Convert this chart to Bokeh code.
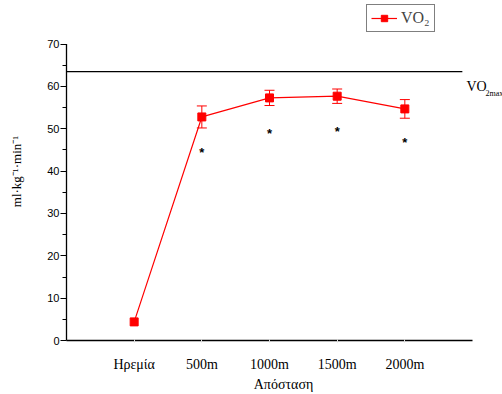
from bokeh.plotting import figure
from bokeh.models import (ColumnDataSource, Whisker, FixedTicker, Label, Legend, LegendItem, Range1d)
from bokeh.core.properties import value
from bokeh.embed import file_html
from bokeh.resources import INLINE

categories = ["Ηρεμία", "500m", "1000m", "1500m", "2000m"]
positions = [1, 2, 3, 4, 5]
vo2 = [4.4, 52.8, 57.3, 57.7, 54.7]
vo2_err = [0.0, 2.6, 1.8, 1.7, 2.2]
star_y = [44.5, 49.0, 49.4, 46.8]
star_x = [2, 3, 4, 5]
vo2max = 63.5
vo2max_line_end = 5.85
y_ticks = [0, 10, 20, 30, 40, 50, 60, 70]
x_axis_end = len(categories) + 1

# pixel scales (px per data unit) used to extend the frame around the drawn axes
SX = 67.67
SY = 4.271
x_start = -2 / SX
x_end = x_axis_end + 30 / SX
y_start = -2 / SY
y_end = y_ticks[-1] + 44 / SY

p = figure(width=502, height=394, output_backend="svg", toolbar_location=None,
           x_range=Range1d(x_start, x_end), y_range=Range1d(y_start, y_end),
           min_border_left=64, min_border_top=0, min_border_right=0, min_border_bottom=48)
p.outline_line_color = None
p.grid.visible = False
p.background_fill_color = "white"

# axes (axis lines drawn as segments so they end where the reference ends)
p.yaxis.ticker = FixedTicker(ticks=y_ticks, minor_ticks=[v + 5 for v in y_ticks[:-1]])
p.yaxis.axis_line_color = None
p.yaxis.major_label_text_font = "Liberation Sans"
p.yaxis.major_label_text_font_size = "11px"
p.yaxis.major_label_text_color = "black"
p.yaxis.major_tick_out = 4
p.yaxis.major_tick_in = 2
p.yaxis.minor_tick_out = 2
p.yaxis.minor_tick_in = 2
p.yaxis.major_label_standoff = 1
p.yaxis.axis_label = "ml·kg⁻¹·min⁻¹"
p.yaxis.axis_label_text_font = "Liberation Serif"
p.yaxis.axis_label_text_font_style = "normal"
p.yaxis.axis_label_text_font_size = "13px"
p.yaxis.axis_label_text_color = "black"
p.yaxis.axis_label_standoff = 20

p.xaxis.ticker = FixedTicker(ticks=positions, minor_ticks=[])
p.xaxis.axis_line_color = None
p.xaxis.major_label_overrides = {pos: c for pos, c in zip(positions, categories)}
p.xaxis.major_label_text_font = "Liberation Serif"
p.xaxis.major_label_text_font_size = "14px"
p.xaxis.major_label_text_color = "black"
p.xaxis.major_tick_out = 0
p.xaxis.major_tick_in = 3
p.xaxis.major_tick_line_color = "#dddddd"
p.xaxis.major_label_standoff = 14
p.xaxis.axis_label = "Απόσταση"
p.xaxis.axis_label_text_font = "Liberation Serif"
p.xaxis.axis_label_text_font_style = "normal"
p.xaxis.axis_label_text_font_size = "14px"
p.xaxis.axis_label_text_color = "black"
p.xaxis.axis_label_standoff = 2

p.segment(x0=[0, 0], y0=[0, 0], x1=[x_axis_end, 0], y1=[0, y_ticks[-1]], line_color="black", line_width=1.3)

# VO2max line
p.segment(x0=[0], y0=[vo2max], x1=[vo2max_line_end], y1=[vo2max], line_color="black", line_width=1.2)
p.add_layout(Label(x=5.91, y=vo2max, y_offset=-22, text="VO", text_font="Liberation Serif",
                   text_font_size="14px", text_color="black"))
p.add_layout(Label(x=5.91, y=vo2max, x_offset=19, y_offset=-26, text="2max", text_font="Liberation Serif",
                   text_font_size="8px", text_color="black"))

# data
lower = [v - e for v, e in zip(vo2, vo2_err)]
upper = [v + e for v, e in zip(vo2, vo2_err)]
src = ColumnDataSource(dict(x=positions, y=vo2, lower=lower, upper=upper))
err_src = ColumnDataSource(dict(x=positions[1:], lower=lower[1:], upper=upper[1:]))
w = Whisker(source=err_src, base="x", lower="lower", upper="upper", line_color="red", line_width=1)
w.upper_head.line_color = "red"
w.lower_head.line_color = "red"
w.upper_head.size = 10
w.lower_head.size = 10
p.add_layout(w)
ln = p.line("x", "y", source=src, line_color="red", line_width=1.2)
sq = p.scatter("x", "y", source=src, marker="square", size=8, fill_color="red", line_color="red")

p.text(x=star_x, y=star_y, text=["*"] * len(star_x), text_font=value("Liberation Sans"),
       text_font_size="13px", text_font_style="bold", text_color="black",
       text_align="center", text_baseline="middle")

legend = Legend(items=[LegendItem(label="VO₂", renderers=[ln, sq])], location=(302, 310),
                label_text_font="Liberation Serif", label_text_font_size="16px",
                border_line_color="black", border_line_width=1.3, glyph_width=26, glyph_height=16,
                padding=4, margin=0, label_standoff=4, spacing=0, background_fill_alpha=1)
p.add_layout(legend, "center")

open("out.html", "w").write(file_html(p, INLINE))
